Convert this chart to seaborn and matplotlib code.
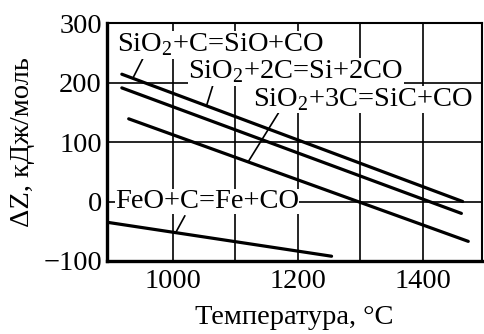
import matplotlib
matplotlib.use("Agg")
import matplotlib.pyplot as plt
import pandas as pd
import seaborn as sns

# reaction lines: (T start, T end), (dZ start, dZ end)
reactions = ["SiO2+C", "SiO2+2C", "SiO2+3C", "FeO+C"]
t_start = [918, 918, 929, 895]
t_end = [1464, 1462, 1473, 1254]
dz_start = [214, 191, 139, -35]
dz_end = [0, -20, -67, -92]

labels = [r"SiO$_\mathrm{2}$+C=SiO+CO",
          r"SiO$_\mathrm{2}$+2C=Si+2CO",
          r"SiO$_\mathrm{2}$+3C=SiC+CO",
          "FeO+C=Fe+CO"]
label_xy = [(910, 263), (1024, 218), (1128, 171), (907, 0)]
leader_from = [(953, 243), (1064, 196), (1169, 149), (1019, -24)]
leader_to = [(936, 208), (1054, 162), (1120, 66), (1005, -51)]

xticks = [1000, 1100, 1200, 1300, 1400]
xticklabels = ["1000", "", "1200", "", "1400"]
yticks = [-100, 0, 100, 200, 300]
yticklabels = ["\u2212100", "0", "100", "200", "300"]

rows = []
for r, t0, t1, z0, z1 in zip(reactions, t_start, t_end, dz_start, dz_end):
    rows.append({"reaction": r, "T": t0, "dZ": z0})
    rows.append({"reaction": r, "T": t1, "dZ": z1})
df = pd.DataFrame(rows)

sns.set_style("white")
plt.rcParams["font.family"] = ["Liberation Serif", "DejaVu Serif"]
plt.rcParams["mathtext.fontset"] = "custom"
plt.rcParams["mathtext.rm"] = "Liberation Serif"
plt.rcParams["text.color"] = "black"
plt.rcParams["axes.labelcolor"] = "black"
plt.rcParams["xtick.color"] = "black"
plt.rcParams["ytick.color"] = "black"
fs = 20.5
plt.rcParams["font.size"] = fs

fig = plt.figure(figsize=(4.85, 3.34), dpi=100)
ax = fig.add_axes([0.2216, 0.2186, 0.9938 - 0.2216, 0.931 - 0.2186])

sns.lineplot(data=df, x="T", y="dZ", hue="reaction", units="reaction",
             estimator=None, palette=["black"] * 4, linewidth=2.3,
             legend=False, ax=ax, zorder=3)

ax.set_xlim(895, 1495)
ax.set_ylim(-100, 300)
ax.set_xticks(xticks)
ax.set_xticklabels(xticklabels)
ax.set_yticks(yticks)
ax.set_yticklabels(yticklabels)
ax.tick_params(axis="x", length=0, labelsize=fs, pad=6)
ax.tick_params(axis="y", length=0, labelsize=fs, pad=4)
ax.grid(True, color="black", linewidth=1.2, zorder=1)
ax.set_axisbelow(True)

for side in ["left", "bottom"]:
    ax.spines[side].set_linewidth(2.4)
for side in ["top", "right"]:
    ax.spines[side].set_linewidth(1.5)
for s in ax.spines.values():
    s.set_color("black")

for lab, (x, y), p0, p1 in zip(labels, label_xy, leader_from, leader_to):
    ax.plot([p0[0], p1[0]], [p0[1], p1[1]], color="black", linewidth=1.2, zorder=4)
    ax.text(x, y, lab, ha="left", va="center", fontsize=fs, zorder=5,
            color="black",
            bbox=dict(facecolor="white", edgecolor="none", pad=0.3))

ax.set_xlabel("Температура, °C", fontsize=fs, labelpad=8)
ax.set_ylabel("ΔZ, кДж/моль", fontsize=fs, labelpad=6)

fig.savefig("out.png", dpi=100)
